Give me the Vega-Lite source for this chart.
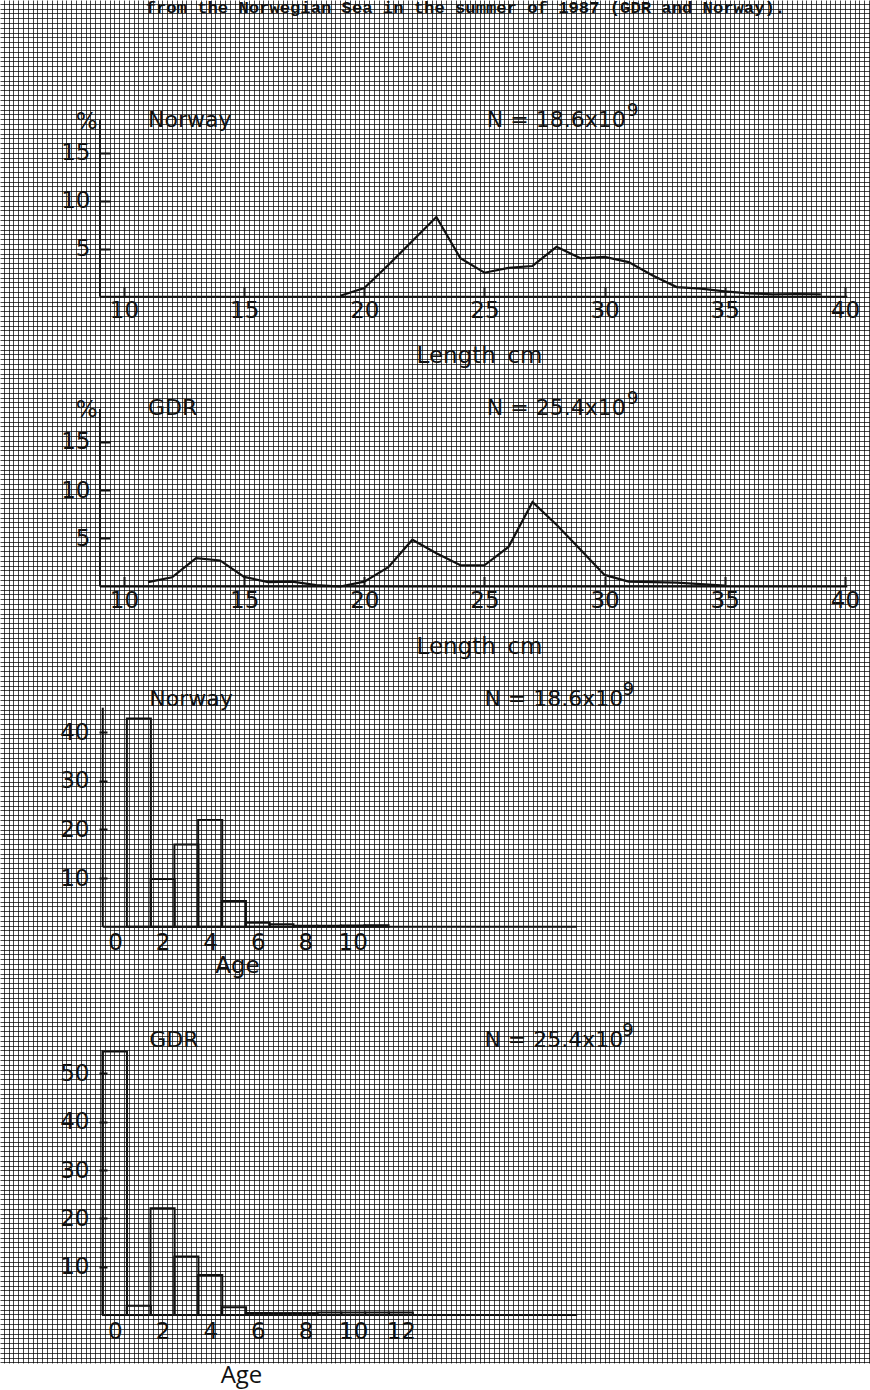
{
  "$schema": "https://vega.github.io/schema/vega-lite/v6.json",
  "width": 870,
  "height": 1363,
  "autosize": "none",
  "padding": {"left": 0, "top": 0, "right": 0, "bottom": 27},
  "background": "white",
  "config": {
    "view": {"stroke": null},
    "axis": {"labelFont": "DejaVu Sans", "labelFontSize": 23, "labelColor": "#111", "tickColor": "#111", "tickWidth": 2, "titleFont": "DejaVu Sans", "titleFontSize": 23, "titleFontWeight": "normal", "titleColor": "#111", "grid": false, "domain": false, "labelOverlap": false},
    "text": {"font": "DejaVu Sans", "fontSize": 22, "color": "#111", "align": "left", "baseline": "alphabetic"}
  },
  "datasets": {
    "normLen": [
      {"length": 19, "pct": 0.1}, {"length": 20, "pct": 0.9}, {"length": 21, "pct": 3.3}, {"length": 22, "pct": 5.8},
      {"length": 23, "pct": 8.3}, {"length": 24, "pct": 4.0}, {"length": 25, "pct": 2.5}, {"length": 26, "pct": 3.0},
      {"length": 27, "pct": 3.2}, {"length": 28, "pct": 5.2}, {"length": 29, "pct": 4.0}, {"length": 30, "pct": 4.15},
      {"length": 31, "pct": 3.6}, {"length": 32, "pct": 2.2}, {"length": 33, "pct": 1.0}, {"length": 34, "pct": 0.85},
      {"length": 35, "pct": 0.55}, {"length": 36, "pct": 0.35}, {"length": 37, "pct": 0.25}, {"length": 38, "pct": 0.28},
      {"length": 39, "pct": 0.25}
    ],
    "gdrLen": [
      {"length": 11, "pct": 0.45}, {"length": 12, "pct": 0.95}, {"length": 13, "pct": 2.95}, {"length": 14, "pct": 2.7},
      {"length": 15, "pct": 1.0}, {"length": 16, "pct": 0.45}, {"length": 17, "pct": 0.5}, {"length": 18, "pct": 0.15},
      {"length": 19, "pct": 0.0}, {"length": 20, "pct": 0.5}, {"length": 21, "pct": 2.0}, {"length": 22, "pct": 4.85},
      {"length": 23, "pct": 3.45}, {"length": 24, "pct": 2.2}, {"length": 25, "pct": 2.2}, {"length": 26, "pct": 4.1},
      {"length": 27, "pct": 8.75}, {"length": 28, "pct": 6.4}, {"length": 29, "pct": 3.8}, {"length": 30, "pct": 1.2},
      {"length": 31, "pct": 0.5}, {"length": 32, "pct": 0.45}, {"length": 33, "pct": 0.4}, {"length": 34, "pct": 0.25},
      {"length": 35, "pct": 0.1}
    ],
    "normAge": [
      {"age": 1, "pct": 42.8}, {"age": 2, "pct": 9.8}, {"age": 3, "pct": 16.9}, {"age": 4, "pct": 21.9},
      {"age": 5, "pct": 5.3}, {"age": 6, "pct": 0.8}, {"age": 7, "pct": 0.5}, {"age": 8, "pct": 0.2},
      {"age": 9, "pct": 0.2}, {"age": 10, "pct": 0.25}, {"age": 11, "pct": 0.3}
    ],
    "gdrAge": [
      {"age": 0, "pct": 54.5}, {"age": 1, "pct": 1.9}, {"age": 2, "pct": 22.1}, {"age": 3, "pct": 12.1},
      {"age": 4, "pct": 8.3}, {"age": 5, "pct": 1.6}, {"age": 6, "pct": 0.4}, {"age": 7, "pct": 0.4},
      {"age": 8, "pct": 0.4}, {"age": 9, "pct": 0.5}, {"age": 10, "pct": 0.5}, {"age": 11, "pct": 0.5},
      {"age": 12, "pct": 0.5}
    ]
  },
  "resolve": {"scale": {"x": "independent", "y": "independent"}, "axis": {"x": "independent", "y": "independent"}},
  "layer": [
    {
      "data": {"values": [{}]},
      "mark": {"type": "text", "font": "Liberation Mono", "fontSize": 17.2, "fontWeight": "bold", "text": "from the Norwegian Sea in the summer of 1987 (GDR and Norway)."},
      "encoding": {
        "x": {"datum": 10.9, "type": "quantitative", "scale": {"domain": [4.8398, 41.0446], "nice": false, "zero": false},
              "axis": {"orient": "bottom", "grid": true, "tickCount": 182, "labels": false, "ticks": false, "domain": false, "title": null, "gridColor": "#000", "gridOpacity": 0.72, "gridWidth": 1}},
        "y": {"datum": 29.5, "type": "quantitative", "scale": {"domain": [-111.07, 30.906], "nice": false, "zero": false},
              "axis": {"orient": "left", "grid": true, "tickCount": 290, "labels": false, "ticks": false, "domain": false, "title": null, "gridColor": "#000", "gridOpacity": 0.72, "gridWidth": 1}}
      }
    },
    {
      "layer": [
        {
          "data": {"name": "normLen"},
          "mark": {"type": "line", "color": "#111", "strokeWidth": 2.2},
          "encoding": {
            "x": {"field": "length", "type": "quantitative", "scale": {"domain": [4.8398, 41.0446], "nice": false, "zero": false},
                  "axis": {"orient": "bottom", "offset": -1066.3, "values": [10, 15, 20, 25, 30, 35, 40], "tickSize": -10, "labelPadding": 13, "title": "Length\u2002cm", "titleX": 479, "titleY": 66, "titleBaseline": "alphabetic"}},
            "y": {"field": "pct", "type": "quantitative", "scale": {"domain": [-111.07, 30.906], "nice": false, "zero": false},
                  "axis": {"orient": "left", "offset": -100, "values": [5, 10, 15], "tickSize": -10, "labelPadding": 20, "title": "%", "titleAngle": 0, "titleX": -3, "titleY": 128, "titleAlign": "right", "titleBaseline": "alphabetic"}}
          }
        },
        {"data": {"values": [{}]}, "mark": {"type": "rule", "color": "#111", "strokeWidth": 2}, "encoding": {"x": {"datum": 9}, "x2": {"datum": 40.1}, "y": {"datum": 0}}},
        {"data": {"values": [{}]}, "mark": {"type": "rule", "color": "#111", "strokeWidth": 2}, "encoding": {"x": {"datum": 9}, "y": {"datum": 0}, "y2": {"datum": 18.4}}},
        {"data": {"values": [{}]}, "mark": {"type": "text", "text": "Norway"}, "encoding": {"x": {"datum": 11.0}, "y": {"datum": 17.68}}},
        {"data": {"values": [{}]}, "mark": {"type": "text", "text": "N = 18.6x10"}, "encoding": {"x": {"datum": 25.1}, "y": {"datum": 17.68}}},
        {"data": {"values": [{}]}, "mark": {"type": "text", "text": "9", "fontSize": 18}, "encoding": {"x": {"datum": 30.93}, "y": {"datum": 18.82}}}
      ]
    },
    {
      "layer": [
        {
          "data": {"name": "gdrLen"},
          "mark": {"type": "line", "color": "#111", "strokeWidth": 2.2},
          "encoding": {
            "x": {"field": "length", "type": "quantitative", "scale": {"domain": [4.8398, 41.0446], "nice": false, "zero": false},
                  "axis": {"orient": "bottom", "offset": -776.5, "values": [10, 15, 20, 25, 30, 35, 40], "tickSize": -10, "labelPadding": 13, "title": "Length\u2002cm", "titleX": 479, "titleY": 67, "titleBaseline": "alphabetic"}},
            "y": {"field": "pct", "type": "quantitative", "scale": {"domain": [-80.47, 60.78], "nice": false, "zero": false},
                  "axis": {"orient": "left", "offset": -100, "values": [5, 10, 15], "tickSize": -10, "labelPadding": 20, "title": "%", "titleAngle": 0, "titleX": -3, "titleY": 416, "titleAlign": "right", "titleBaseline": "alphabetic"}}
          }
        },
        {"data": {"values": [{}]}, "mark": {"type": "rule", "color": "#111", "strokeWidth": 2}, "encoding": {"x": {"datum": 9}, "x2": {"datum": 40.1}, "y": {"datum": 0}}},
        {"data": {"values": [{}]}, "mark": {"type": "rule", "color": "#111", "strokeWidth": 2}, "encoding": {"x": {"datum": 9}, "y": {"datum": 0}, "y2": {"datum": 18.4}}},
        {"data": {"values": [{}]}, "mark": {"type": "text", "text": "GDR"}, "encoding": {"x": {"datum": 11.0}, "y": {"datum": 17.77}}},
        {"data": {"values": [{}]}, "mark": {"type": "text", "text": "N = 25.4x10"}, "encoding": {"x": {"datum": 25.1}, "y": {"datum": 17.77}}},
        {"data": {"values": [{}]}, "mark": {"type": "text", "text": "9", "fontSize": 18}, "encoding": {"x": {"datum": 30.93}, "y": {"datum": 18.91}}}
      ]
    },
    {
      "layer": [
        {
          "data": {"name": "normAge"},
          "mark": {"type": "bar", "filled": false, "color": "#111", "strokeWidth": 2, "width": 24.04},
          "encoding": {
            "x": {"field": "age", "type": "quantitative", "scale": {"domain": [-4.634, 31.556], "nice": false, "zero": false},
                  "axis": {"orient": "bottom", "offset": -436.3, "values": [0, 2, 4, 6, 8, 10], "ticks": false, "tickSize": 0, "labelPadding": 5, "title": "Age", "titleX": 237, "titleY": 46, "titleBaseline": "alphabetic"}},
            "y": {"field": "pct", "type": "quantitative", "scale": {"domain": [-89.65, 190.41], "nice": false, "zero": false},
                  "axis": {"orient": "left", "offset": -99, "values": [10, 20, 30, 40], "tickSize": -8, "labelPadding": 18, "title": null}},
            "y2": {"datum": 0}
          }
        },
        {"data": {"values": [{}]}, "mark": {"type": "rule", "color": "#111", "strokeWidth": 2}, "encoding": {"x": {"datum": -0.52}, "x2": {"datum": 19.43}, "y": {"datum": 0}}},
        {"data": {"values": [{}]}, "mark": {"type": "rule", "color": "#111", "strokeWidth": 2}, "encoding": {"x": {"datum": -0.52}, "y": {"datum": 0}, "y2": {"datum": 45}}},
        {"data": {"values": [{}]}, "mark": {"type": "text", "text": "Norway"}, "encoding": {"x": {"datum": 1.44}, "y": {"datum": 45.35}}},
        {"data": {"values": [{}]}, "mark": {"type": "text", "text": "N = 18.6x10"}, "encoding": {"x": {"datum": 15.54}, "y": {"datum": 45.35}}},
        {"data": {"values": [{}]}, "mark": {"type": "text", "text": "9", "fontSize": 18}, "encoding": {"x": {"datum": 21.36}, "y": {"datum": 47.6}}}
      ]
    },
    {
      "layer": [
        {
          "data": {"name": "gdrAge"},
          "mark": {"type": "bar", "filled": false, "color": "#111", "strokeWidth": 2, "width": 24.1},
          "encoding": {
            "x": {"field": "age", "type": "quantitative", "scale": {"domain": [-4.614, 31.485], "nice": false, "zero": false},
                  "axis": {"orient": "bottom", "offset": -48, "values": [0, 2, 4, 6, 8, 10, 12], "ticks": false, "tickSize": 0, "labelPadding": 5, "title": "Age", "titleX": 241, "titleY": 67, "titleBaseline": "alphabetic", "titleFont": "Open Sans", "titleFontSize": 24}},
            "y": {"field": "pct", "type": "quantitative", "scale": {"domain": [-9.93, 272.09], "nice": false, "zero": false},
                  "axis": {"orient": "left", "offset": -99, "values": [10, 20, 30, 40, 50], "tickSize": -8, "labelPadding": 18, "title": null}},
            "y2": {"datum": 0}
          }
        },
        {"data": {"values": [{}]}, "mark": {"type": "rule", "color": "#111", "strokeWidth": 2}, "encoding": {"x": {"datum": -0.52}, "x2": {"datum": 19.4}, "y": {"datum": 0}}},
        {"data": {"values": [{}]}, "mark": {"type": "rule", "color": "#111", "strokeWidth": 2}, "encoding": {"x": {"datum": -0.52}, "y": {"datum": 0}, "y2": {"datum": 54.8}}},
        {"data": {"values": [{}]}, "mark": {"type": "text", "text": "GDR"}, "encoding": {"x": {"datum": 1.44}, "y": {"datum": 55.45}}},
        {"data": {"values": [{}]}, "mark": {"type": "text", "text": "N = 25.4x10"}, "encoding": {"x": {"datum": 15.51}, "y": {"datum": 55.45}}},
        {"data": {"values": [{}]}, "mark": {"type": "text", "text": "9", "fontSize": 18}, "encoding": {"x": {"datum": 21.3}, "y": {"datum": 57.7}}}
      ]
    }
  ]
}
